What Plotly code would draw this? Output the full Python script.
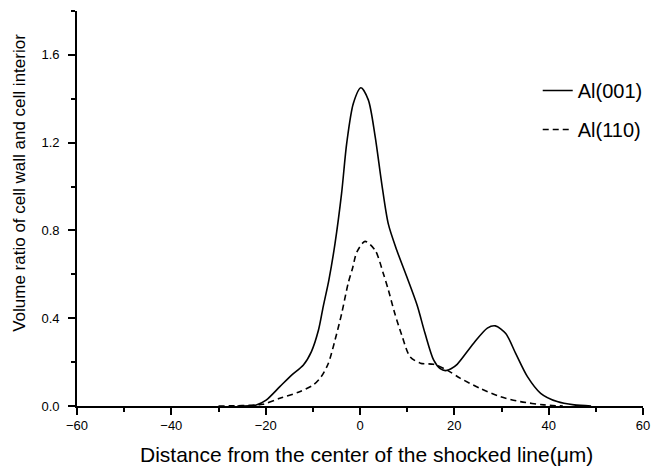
import plotly.graph_objects as go

# Al(001): volume ratio vs distance from shocked line centre
x_001 = [-26, -22, -19.9, -17, -14.5, -12, -10.3, -8.8, -7.8, -6.6, -5.3, -3.9, -2.8, -1.4,
         0.2, 1.76, 3.2, 4.6, 6.0, 7.8, 9.9, 12.1, 13.8, 15.6, 17.0, 18.1, 19.3, 20.6, 24.1,
         27.0, 28.7, 30.9, 33.0, 35.5, 38.3, 41.8, 45.4, 49]
y_001 = [0.0, 0.005, 0.027, 0.088, 0.141, 0.187, 0.248, 0.346, 0.453, 0.574, 0.74, 0.97, 1.20,
         1.38, 1.45, 1.395, 1.23, 1.015, 0.83, 0.71, 0.59, 0.46, 0.33, 0.21, 0.17, 0.161, 0.17,
         0.19, 0.286, 0.355, 0.365, 0.33, 0.24, 0.134, 0.058, 0.02, 0.005, 0.0]

# Al(110)
x_110 = [-30, -25, -20.6, -17, -12.8, -9.9, -8.2, -6.7, -5.3, -3.9, -2.5, -1.55, -0.7, 1.06,
         3.2, 5.0, 6.0, 7.4, 8.9, 10.6, 12.8, 15.6, 18.4, 21.3, 25.5, 29.8, 34, 39, 43]
y_110 = [0.0, 0.002, 0.008, 0.035, 0.065, 0.096, 0.134, 0.195, 0.30, 0.42, 0.56, 0.63, 0.70,
         0.75, 0.71, 0.60, 0.53, 0.42, 0.32, 0.225, 0.195, 0.19, 0.164, 0.126, 0.08, 0.042,
         0.02, 0.005, 0.0]

x_ticks = [-60, -40, -20, 0, 20, 40, 60]
y_ticks = [0.0, 0.4, 0.8, 1.2, 1.6]
y_tick_labels = ["0.0", "0.4", "0.8", "1.2", "1.6"]

x_title = "Distance from the center of the shocked line(\u03bcm)"
y_title = "Volume ratio of cell wall and cell interior"

FONT = "Liberation Sans, Arial, sans-serif"

fig = go.Figure()
fig.add_trace(go.Scatter(x=x_001, y=y_001, mode="lines", name="Al(001)", legendgroup="a",
                         line=dict(color="black", width=1.6, shape="spline", smoothing=0.8)))
fig.add_trace(go.Scatter(x=x_110, y=y_110, mode="lines", name="Al(110)", legendgroup="b",
                         line=dict(color="black", width=1.6, shape="spline", smoothing=0.8,
                                   dash="6px,4px")))

axis_common = dict(showline=True, linecolor="black", linewidth=1.6, ticks="outside",
                   ticklen=7, tickwidth=1.5, tickcolor="black", showgrid=False, zeroline=False,
                   automargin=False,
                   tickfont=dict(family=FONT, size=13, color="black"),
                   minor=dict(ticks="outside", ticklen=4, tickwidth=1.5, tickcolor="black"))

fig.update_xaxes(range=[-60, 60], tickvals=x_ticks, minor_dtick=10, minor_tick0=-60,
                 **axis_common)
fig.update_yaxes(range=[0, 1.8], tickvals=y_ticks, ticktext=y_tick_labels,
                 minor_dtick=0.2, minor_tick0=0, ticklabelstandoff=6,
                 **axis_common)

# axis titles
fig.add_annotation(text=x_title, xref="paper", yref="paper", x=0.511, y=-0.124,
                   xanchor="center", yanchor="middle", showarrow=False,
                   font=dict(family=FONT, size=21, color="black"))
fig.add_annotation(text=y_title, xref="paper", yref="paper", x=-0.1007, y=0.565,
                   xanchor="center", yanchor="middle", textangle=-90, showarrow=False,
                   font=dict(family=FONT, size=17, color="black"))

fig.update_layout(
    width=652, height=472,
    margin=dict(l=77, r=9, t=11, b=66, autoexpand=False),
    plot_bgcolor="white", paper_bgcolor="white",
    legend=dict(x=0.814, y=0.848, xanchor="left", yanchor="top",
                traceorder="grouped", tracegroupgap=10,
                font=dict(family=FONT, size=20, color="black"),
                bgcolor="rgba(0,0,0,0)"),
)

fig.write_html("out.html")
